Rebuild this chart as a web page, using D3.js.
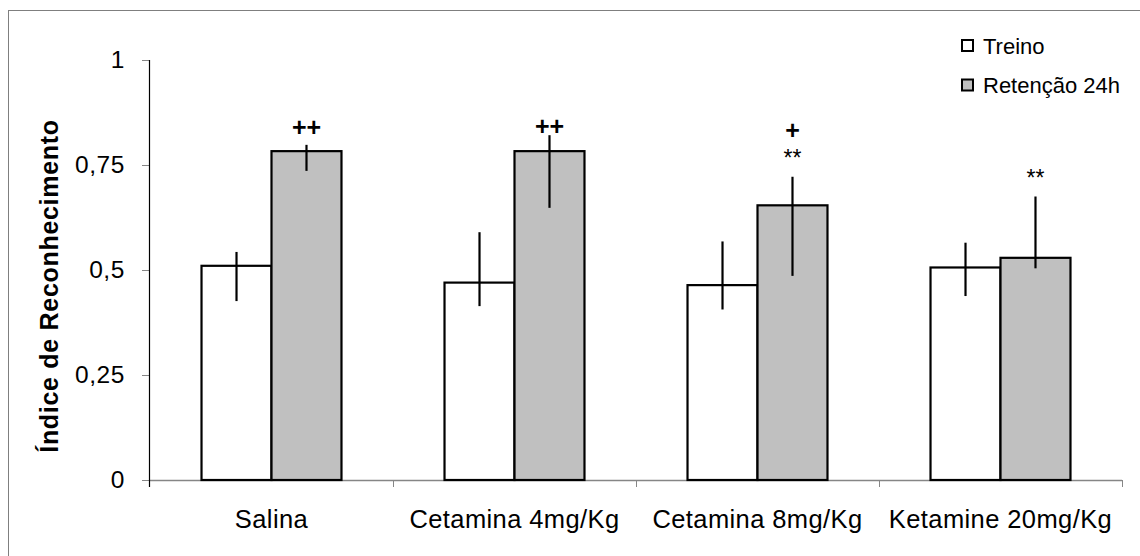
<!DOCTYPE html>
<html>
<head>
<meta charset="utf-8">
<script src="https://cdn.jsdelivr.net/npm/d3@7"></script>
<style>
  body { margin: 0; background: #fff; }
  svg { display: block; font-family: "Liberation Sans", Arial, sans-serif; }
</style>
</head>
<body>
<div id="chart"></div>
<script>
// data
const categories = ["Salina", "Cetamina 4mg/Kg", "Cetamina 8mg/Kg", "Ketamine 20mg/Kg"];
const seriesNames = ["Treino", "Retenção 24h"];
const treino = [0.51, 0.47, 0.464, 0.506];
const treinoHi = [0.543, 0.59, 0.568, 0.565];
const treinoLo = [0.426, 0.414, 0.406, 0.438];
const retencao = [0.783, 0.783, 0.654, 0.529];
const retencaoHi = [0.798, 0.821, 0.722, 0.675];
const retencaoLo = [0.736, 0.648, 0.486, 0.504];
const plusMarks = ["++", "++", "+", ""];
const plusAt = [0.82, 0.821, 0.813, null];
const starMarks = ["", "", "**", "**"];
const starAt = [null, null, 0.748, 0.70];
const yTicks = [0, 0.25, 0.5, 0.75, 1];

const W = 1140, H = 556;
const fills = ["#ffffff", "#c0c0c0"];

const svg = d3.select("#chart").append("svg")
  .attr("width", W)
  .attr("height", H);

// outer frame (only left/top visible in the picture)
svg.append("rect")
  .attr("x", 8.5).attr("y", 10.5)
  .attr("width", W).attr("height", H)
  .attr("fill", "none")
  .attr("stroke", "#7f7f7f")
  .attr("stroke-width", 1);

const y = d3.scaleLinear().domain([0, 1]).range([480, 60]);
const x0 = d3.scaleBand()
  .domain(categories)
  .range([150, 1122])
  .paddingInner(0.424)
  .paddingOuter(0.212);
const x1 = d3.scaleBand()
  .domain(seriesNames)
  .range([0, x0.bandwidth()]);

let rows = categories.map((c, i) => ({
  cat: c,
  vals: [
    { key: seriesNames[0], v: treino[i], hi: treinoHi[i], lo: treinoLo[i] },
    { key: seriesNames[1], v: retencao[i], hi: retencaoHi[i], lo: retencaoLo[i] }
  ]
}));

/////////////////////////////
// y axis
const yAxis = svg.append("g")
  .attr("transform", "translate(150,0)")
  .call(d3.axisLeft(y).tickValues(yTicks).tickSize(8).tickSizeOuter(0).tickPadding(17)
    .tickFormat(d => String(d).replace(".", ",")));
yAxis.select(".domain").remove();
yAxis.selectAll(".tick line").attr("stroke", "#868686");
yAxis.selectAll(".tick text")
  .attr("font-size", 24.5)
  .attr("font-family", "Liberation Sans, Arial, sans-serif")
  .attr("letter-spacing", "0.6px")
  .attr("fill", "#000");

/////////////////////////////
// x axis (Excel style: ticks between categories)
const step = x0.step();
const edges = d3.range(categories.length + 1).map(i => 150 + i * step);
svg.append("line")
  .attr("x1", 150).attr("x2", 1122)
  .attr("y1", y(0) + 0.5).attr("y2", y(0) + 0.5)
  .attr("stroke", "#868686").attr("stroke-width", 1.5);
svg.append("g").selectAll("line")
  .data(edges.slice(1))
  .join("line")
  .attr("x1", d => Math.round(d) + 0.5).attr("x2", d => Math.round(d) + 0.5)
  .attr("y1", y(0)).attr("y2", y(0) + 7)
  .attr("stroke", "#868686");
svg.append("g").selectAll("text")
  .data(categories)
  .join("text")
  .attr("x", d => x0(d) + x0.bandwidth() / 2)
  .attr("y", 528)
  .attr("text-anchor", "middle")
  .attr("font-size", 25.5)
  .attr("letter-spacing", "0.4px")
  .text(d => d);

// y axis line (black), runs into the first x tick
svg.append("line")
  .attr("x1", 149.5).attr("x2", 149.5)
  .attr("y1", y(1)).attr("y2", y(0) + 7)
  .attr("stroke", "#000").attr("stroke-width", 1.2);

/////////////////////////////
// bars
const groups = svg.append("g").selectAll("g")
  .data(rows)
  .join("g")
  .attr("transform", d => `translate(${x0(d.cat)},0)`);

groups.selectAll("rect")
  .data(d => d.vals)
  .join("rect")
  .attr("x", d => x1(d.key))
  .attr("y", d => y(d.v))
  .attr("width", x1.bandwidth())
  .attr("height", d => y(0) - y(d.v))
  .attr("fill", (d, i) => fills[i])
  .attr("stroke", "#000")
  .attr("stroke-width", 2.2);

groups.selectAll("line.err")
  .data(d => d.vals)
  .join("line")
  .attr("class", "err")
  .attr("x1", d => x1(d.key) + x1.bandwidth() / 2)
  .attr("x2", d => x1(d.key) + x1.bandwidth() / 2)
  .attr("y1", d => y(d.hi))
  .attr("y2", d => y(d.lo))
  .attr("stroke", "#000")
  .attr("stroke-width", 2.2);

/////////////////////////////
// significance marks above the 24h bars
const markX = c => x0(c) + x1(seriesNames[1]) + x1.bandwidth() / 2;
svg.append("g").selectAll("text")
  .data(categories.filter((c, i) => plusMarks[i]))
  .join("text")
  .attr("x", c => markX(c))
  .attr("y", c => y(plusAt[categories.indexOf(c)]))
  .attr("text-anchor", "middle")
  .attr("font-size", 25)
  .attr("font-weight", "bold")
  .text(c => plusMarks[categories.indexOf(c)]);
svg.append("g").selectAll("text")
  .data(categories.filter((c, i) => starMarks[i]))
  .join("text")
  .attr("x", c => markX(c))
  .attr("y", c => y(starAt[categories.indexOf(c)]))
  .attr("text-anchor", "middle")
  .attr("font-size", 23)
  .text(c => starMarks[categories.indexOf(c)]);

/////////////////////////////
// y title
svg.append("text")
  .attr("transform", "translate(58,286) rotate(-90)")
  .attr("text-anchor", "middle")
  .attr("font-size", 25)
  .attr("font-weight", "bold")
  .attr("letter-spacing", "0.7px")
  .text("Índice de Reconhecimento");

/////////////////////////////
// legend
const legend = svg.append("g").selectAll("g")
  .data(seriesNames)
  .join("g")
  .attr("transform", (d, i) => `translate(962,${40 + i * 39.5})`);
legend.append("rect")
  .attr("width", 11).attr("height", 11)
  .attr("fill", (d, i) => fills[i])
  .attr("stroke", "#000")
  .attr("stroke-width", 2);
legend.append("text")
  .attr("x", 21)
  .attr("y", 13.5)
  .attr("font-size", 22)
  .text(d => d);
</script>
</body>
</html>
